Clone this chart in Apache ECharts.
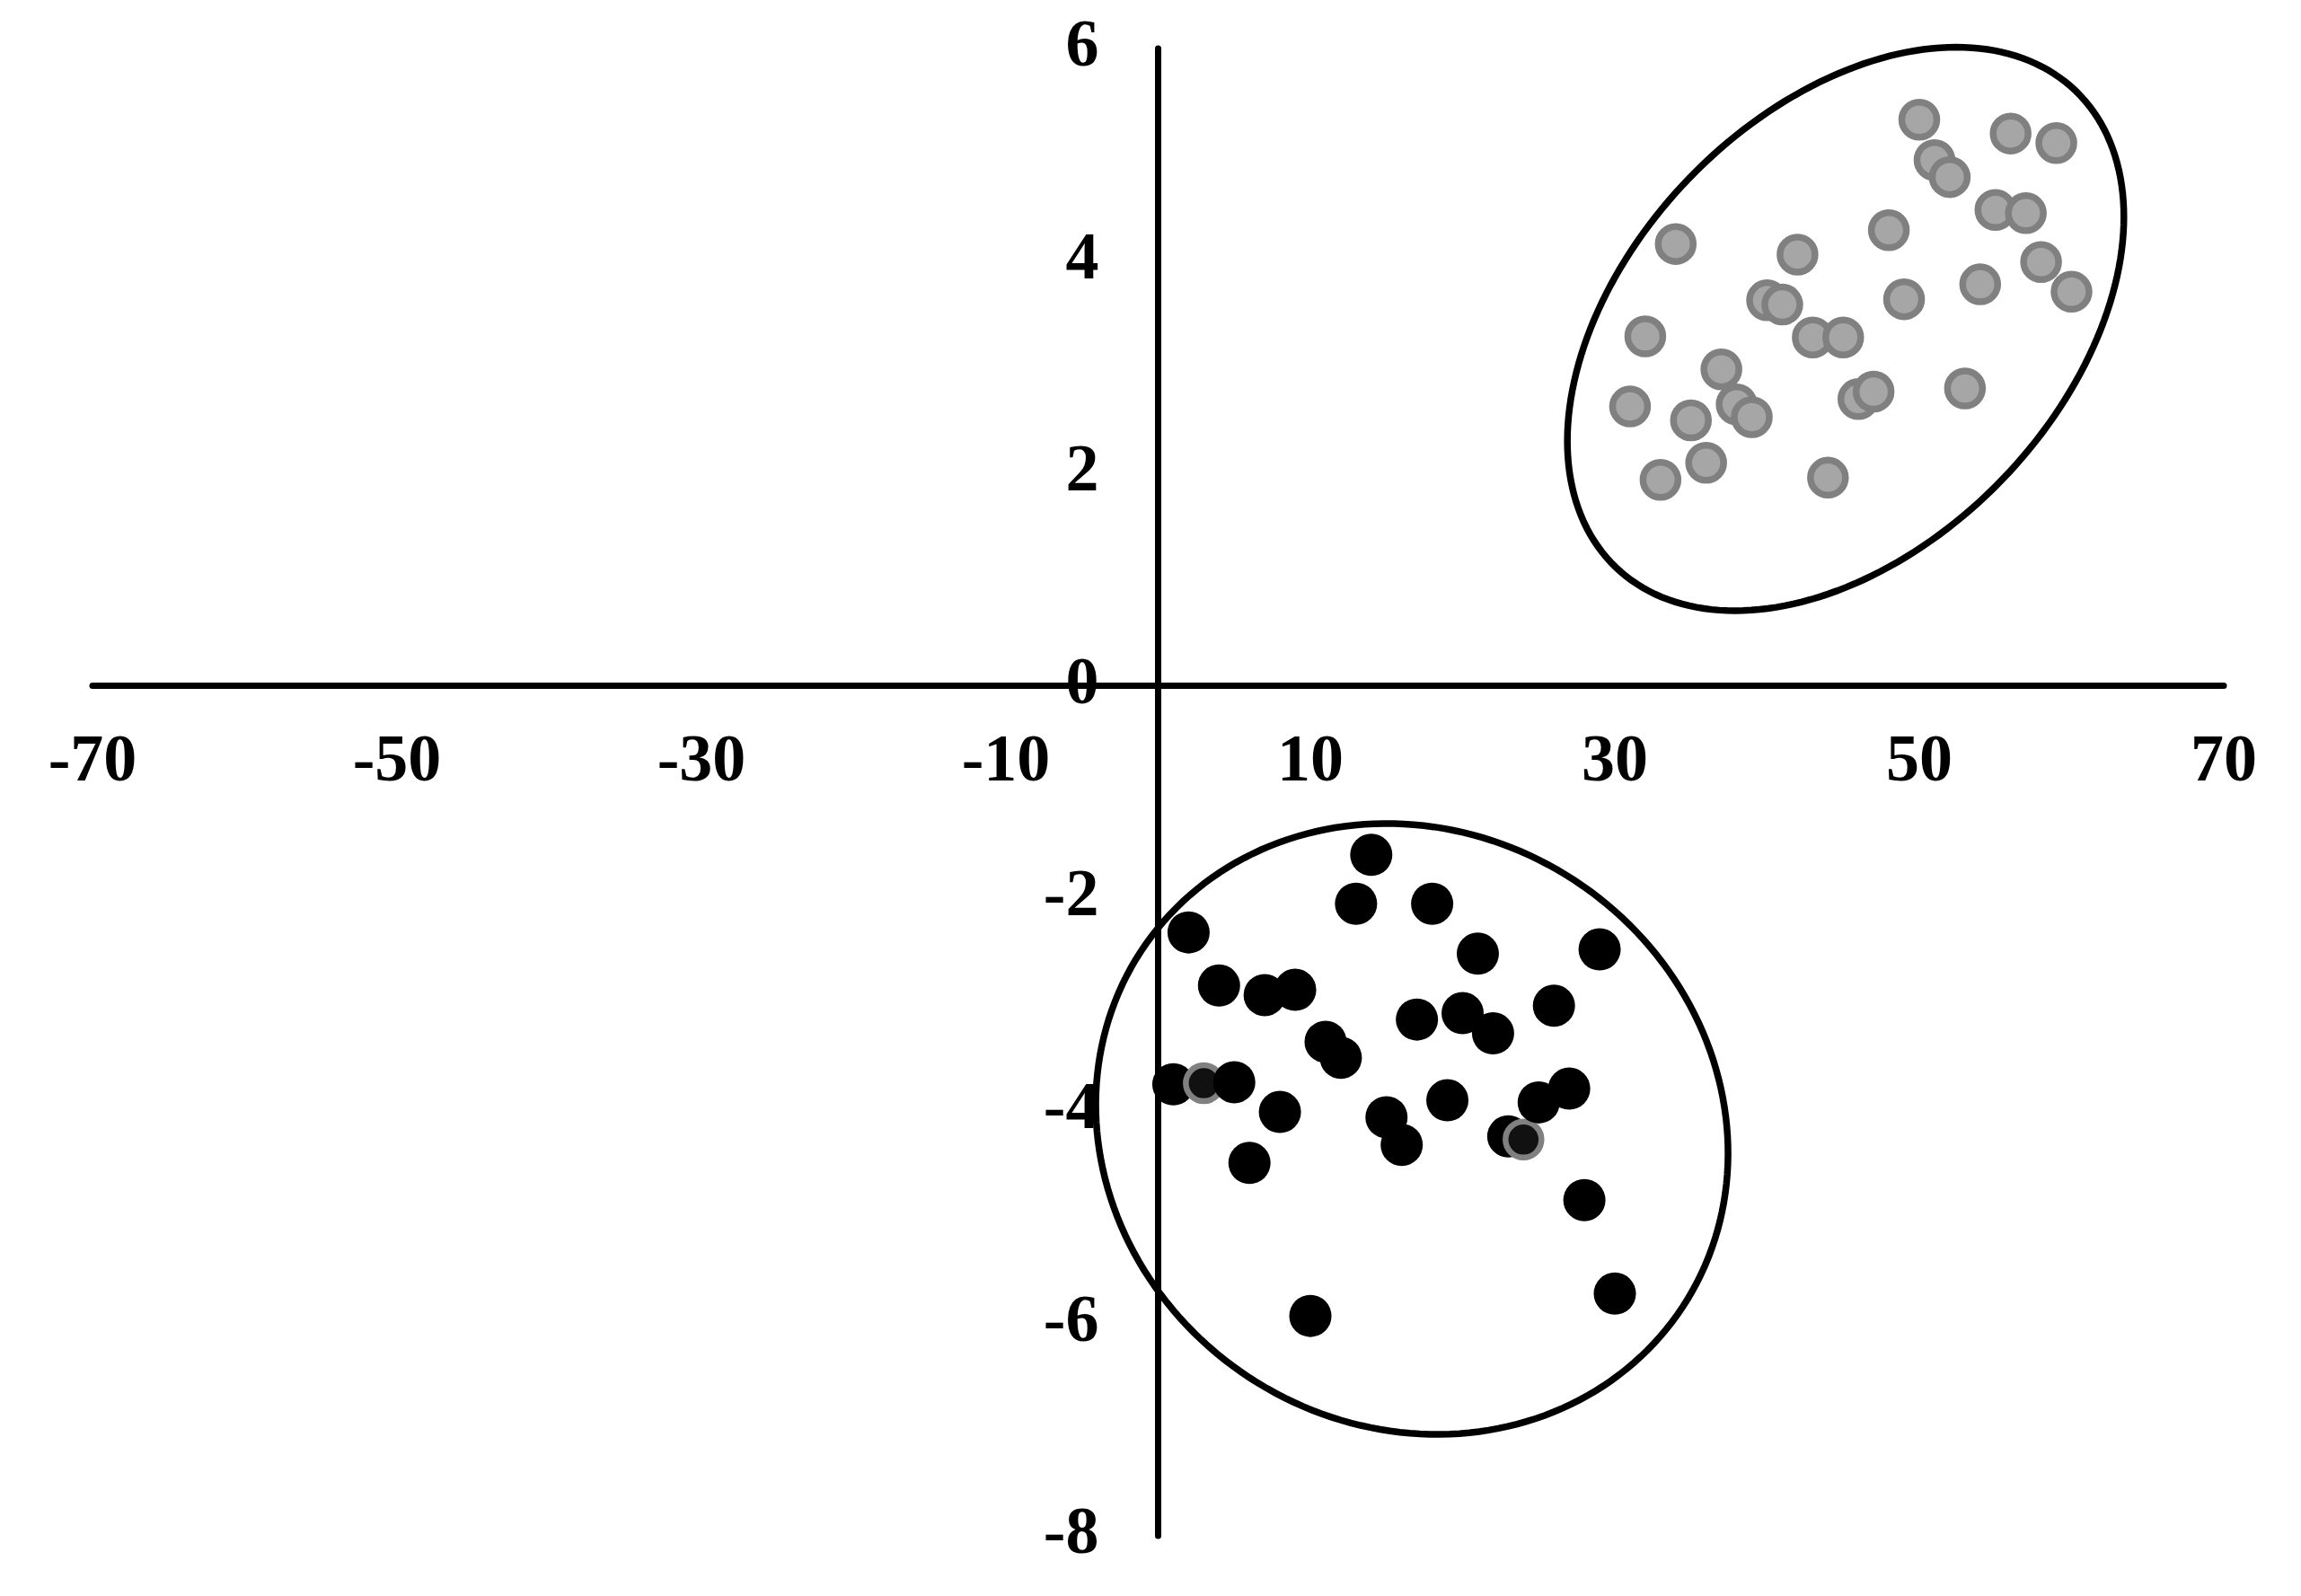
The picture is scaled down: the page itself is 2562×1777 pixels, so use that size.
<!DOCTYPE html>
<html>
<head>
<meta charset="utf-8">
<script src="https://cdn.jsdelivr.net/npm/echarts/dist/echarts.min.js"></script>
<style>
  html, body { margin: 0; padding: 0; background: #fff; }
  #chart { width: 2562px; height: 1777px; }
</style>
</head>
<body>
<div id="chart"></div>
<script>
// gray group, top right
const grayX = [31, 32, 33, 34, 35, 36, 37, 38, 39, 40, 41, 42, 43, 44, 45,
               46, 47, 48, 49, 50, 51, 52, 53, 54, 55, 56, 57, 58, 59, 60];
const grayY = [2.63, 3.29, 1.94, 4.16, 2.50, 2.10, 2.98, 2.65, 2.53, 3.63,
               3.59, 4.06, 3.28, 1.96, 3.28, 2.70, 2.77, 4.29, 3.64, 5.33,
               4.95, 4.79, 2.80, 3.78, 4.48, 5.20, 4.45, 3.99, 5.11, 3.71];

// black group, bottom
const blackX = [1, 2, 3, 4, 5, 6, 7, 8, 9, 10, 11, 12, 13, 14, 15,
                16, 17, 18, 19, 20, 21, 22, 23, 24, 25, 26, 27, 28, 29, 30];
const blackY = [-3.75, -2.32, -3.74, -2.82, -3.73, -4.49, -2.91, -4.01, -2.86, -5.93,
                -3.35, -3.50, -2.05, -1.59, -4.06, -4.32, -3.14, -2.05, -3.90, -3.08,
                -2.52, -3.27, -4.24, -4.27, -3.92, -3.01, -3.79, -4.84, -2.48, -5.72];
// black-group points that carry a gray ring
const ringedX = [3, 24];

// ellipses: centre and two semi-diameters, in data units
const ellipseCenter = [[45.16, 3.36], [16.67, -4.17]];
const ellipseU = [[15.12, 2.24], [17.81, -1.67]];
const ellipseV = [[-10.27, 1.42], [-10.68, -2.34]];

const xTicks = [-70, -50, -30, -10, 10, 30, 50, 70];
const xTickLabels = ['-70', '-50', '-30', '-10', '10', '30', '50', '70'];
const yTicks = [-8, -6, -4, -2, 0, 2, 4, 6];
const yTickLabels = ['-8', '-6', '-4', '-2', '0', '2', '4', '6'];

const chart = echarts.init(document.getElementById('chart'));

const labelFont = 'bold 74px "Liberation Serif", "Times New Roman", serif';

const ellipseData = ellipseCenter.map((c, i) => [c[0], c[1], ellipseU[i][0], ellipseU[i][1], ellipseV[i][0], ellipseV[i][1]]);

const grayData = grayX.map((x, i) => [x, grayY[i]]);

const blackData = blackX.map((x, i) => {
    if (ringedX.indexOf(x) >= 0) {
        return {
            value: [x, blackY[i]],
            symbolSize: 40,
            itemStyle: { color: '#111', borderColor: '#808080', borderWidth: 6.5 }
        };
    }
    return [x, blackY[i]];
});

const option = {
    animation: false,
    backgroundColor: '#fff',
    grid: {
        left: 103,
        right: 86,
        top: 54,
        bottom: 67,
        containLabel: false,
        outerBoundsMode: 'none'
    },
    xAxis: {
        type: 'value',
        min: -70,
        max: 70,
        interval: 10,
        axisLine: { onZero: true, lineStyle: { color: '#000', width: 7 } },
        axisTick: { show: false },
        splitLine: { show: false },
        axisLabel: { show: false }
    },
    yAxis: {
        type: 'value',
        min: -8,
        max: 6,
        interval: 2,
        axisLine: { onZero: true, lineStyle: { color: '#000', width: 7 } },
        axisTick: { show: false },
        splitLine: { show: false },
        axisLabel: { show: false }
    },
    series: [
        {
            // ellipses round the two groups
            type: 'custom',
            silent: true,
            data: ellipseData,
            renderItem: function (params, api) {
                const cx = api.value(0), cy = api.value(1);
                const ux = api.value(2), uy = api.value(3);
                const vx = api.value(4), vy = api.value(5);
                const pts = [];
                for (let k = 0; k < 200; k++) {
                    const t = k / 200 * Math.PI * 2;
                    pts.push(api.coord([
                        cx + ux * Math.cos(t) + vx * Math.sin(t),
                        cy + uy * Math.cos(t) + vy * Math.sin(t)
                    ]));
                }
                return {
                    type: 'polygon',
                    shape: { points: pts },
                    style: { fill: 'none', stroke: '#000', lineWidth: 7.5 }
                };
            }
        },
        {
            type: 'scatter',
            silent: true,
            data: grayData,
            symbol: 'circle',
            symbolSize: 39,
            itemStyle: { color: '#a6a6a6', borderColor: '#808080', borderWidth: 7.5, opacity: 1 }
        },
        {
            type: 'scatter',
            silent: true,
            data: blackData,
            symbol: 'circle',
            symbolSize: 47,
            itemStyle: { color: '#000', opacity: 1 }
        },
        {
            // x tick labels, hung under the zero line
            type: 'custom',
            silent: true,
            data: xTicks.map((v) => [v, 0]),
            renderItem: function (params, api) {
                const p = api.coord([api.value(0), api.value(1)]);
                return {
                    type: 'text',
                    x: p[0],
                    y: p[1] + 86,
                    style: {
                        text: xTickLabels[params.dataIndex],
                        font: labelFont,
                        fill: '#000',
                        align: 'center',
                        verticalAlign: 'middle'
                    }
                };
            }
        },
        {
            // y tick labels, left of the zero line
            type: 'custom',
            silent: true,
            data: yTicks.map((v) => [0, v]),
            renderItem: function (params, api) {
                const p = api.coord([api.value(0), api.value(1)]);
                return {
                    type: 'text',
                    x: p[0] - 66,
                    y: p[1],
                    style: {
                        text: yTickLabels[params.dataIndex],
                        font: labelFont,
                        fill: '#000',
                        align: 'right',
                        verticalAlign: 'middle'
                    }
                };
            }
        }
    ]
};

chart.setOption(option);
</script>
</body>
</html>
